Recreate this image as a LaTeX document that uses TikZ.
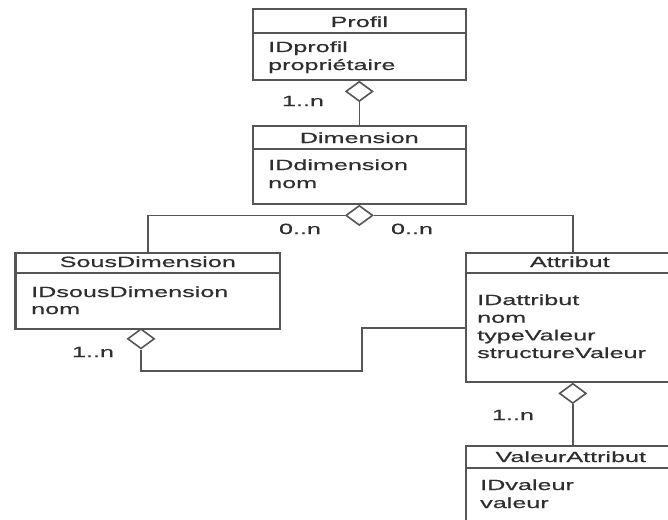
\documentclass[tikz,border=0pt]{standalone}
\usepackage{fontspec}
\setmainfont{Liberation Sans}[FakeStretch=1.70,FakeBold=0.5]
\usetikzlibrary{shapes.geometric,calc}
\definecolor{linec}{HTML}{555555}
\definecolor{textc}{HTML}{2E2E2E}
\begin{document}
\begin{tikzpicture}[x=1pt,y=-1pt,
  box/.style={draw=linec,line width=1.6pt,inner sep=0pt,anchor=north west},
  sep/.style={draw=linec,line width=1.3pt},
  txt/.style={text=textc,inner sep=0pt,font=\fontsize{14.8}{17.7}\selectfont},
  ttl/.style={txt,anchor=base},
  attr/.style={txt,anchor=base west},
  mult/.style={txt,anchor=base},
  agg/.style={diamond,draw=linec,line width=1.6pt,fill=white,minimum width=27pt,minimum height=20pt,inner sep=0pt,anchor=north},
  conn/.style={draw=linec,line width=1.6pt}]
\useasboundingbox (0,0) rectangle (668,519);
\clip (0,0) rectangle (668,519);

% Profil
\node[box,minimum width=213pt,minimum height=71pt] (profil) at (252,8) {};
\draw[sep] ($(profil.north west)+(0,25)$) -- ($(profil.north east)+(0,25)$);
\node[ttl] (profilT) at ($(profil.north)+(0,19)$) {Profil};
\node[attr] (profilA1) at (268,52) {IDprofil};
\node[attr] (profilA2) at (268,70) {propriétaire};

% Dimension
\node[box,minimum width=213pt,minimum height=78pt] (dimension) at (252,125) {};
\draw[sep] ($(dimension.north west)+(0,24)$) -- ($(dimension.north east)+(0,24)$);
\node[ttl] (dimensionT) at ($(dimension.north)+(0,18)$) {Dimension};
\node[attr] (dimensionA1) at (268,170) {IDdimension};
\node[attr] (dimensionA2) at (268,188) {nom};

% SousDimension
\node[box,minimum width=264pt,minimum height=76pt] (sousdim) at (15,252) {};
\draw[draw=linec,line width=3pt] ($(sousdim.north west)+(0.7,0)$) -- ($(sousdim.south west)+(0.7,0)$);
\draw[sep] ($(sousdim.north west)+(0,21)$) -- ($(sousdim.north east)+(0,21)$);
\node[ttl] (sousdimT) at ($(sousdim.north)+(0,15)$) {SousDimension};
\node[attr] (sousdimA1) at (31,297) {IDsousDimension};
\node[attr] (sousdimA2) at (31,314) {nom};

% Attribut
\node[box,minimum width=214pt,minimum height=129pt] (attribut) at (465,252) {};
\draw[sep] ($(attribut.north west)+(0,21)$) -- ($(attribut.north east)+(0,21)$);
\node[ttl] (attributT) at ($(attribut.north)+(-3,15)$) {Attribut};
\node[attr] (attributA1) at (477,305) {IDattribut};
\node[attr] (attributA2) at (477,322.7) {nom};
\node[attr] (attributA3) at (477,340.4) {typeValeur};
\node[attr] (attributA4) at (477,358) {structureValeur};

% ValeurAttribut
\node[box,minimum width=214pt,minimum height=100pt] (valeur) at (465,445) {};
\draw[sep] ($(valeur.north west)+(0,23)$) -- ($(valeur.north east)+(0,23)$);
\node[ttl] (valeurT) at ($(valeur.north)+(-2,17)$) {ValeurAttribut};
\node[attr] (valeurA1) at (480,490) {IDvaleur};
\node[attr] (valeurA2) at (480,508) {valeur};

% aggregations
\node[agg] (d1) at (profil.south) {};
\draw[conn] (d1.south) -- (dimension.north);
\node[mult] (m1) at (303,106) {1..n};

\node[agg] (d2) at (dimension.south) {};
\draw[conn] (d2.west) -| (sousdim.north);
\draw[conn] (d2.east) -| (attribut.north);
\node[mult] (m2) at (300,234) {0..n};
\node[mult] (m3) at (412,234) {0..n};

\node[agg] (d3) at (141,328) {};
\coordinate (k1) at (362,371);
\coordinate (k2) at (362,328);
\draw[conn] (d3.south) |- (k1) -- (k2) -- (k2 -| attribut.west);
\node[mult] (m4) at (93,357) {1..n};

\node[agg] (d4) at (attribut.south) {};
\draw[conn] (d4.south) -- (valeur.north);
\node[mult] (m5) at (513,420) {1..n};
\end{tikzpicture}
\end{document}
